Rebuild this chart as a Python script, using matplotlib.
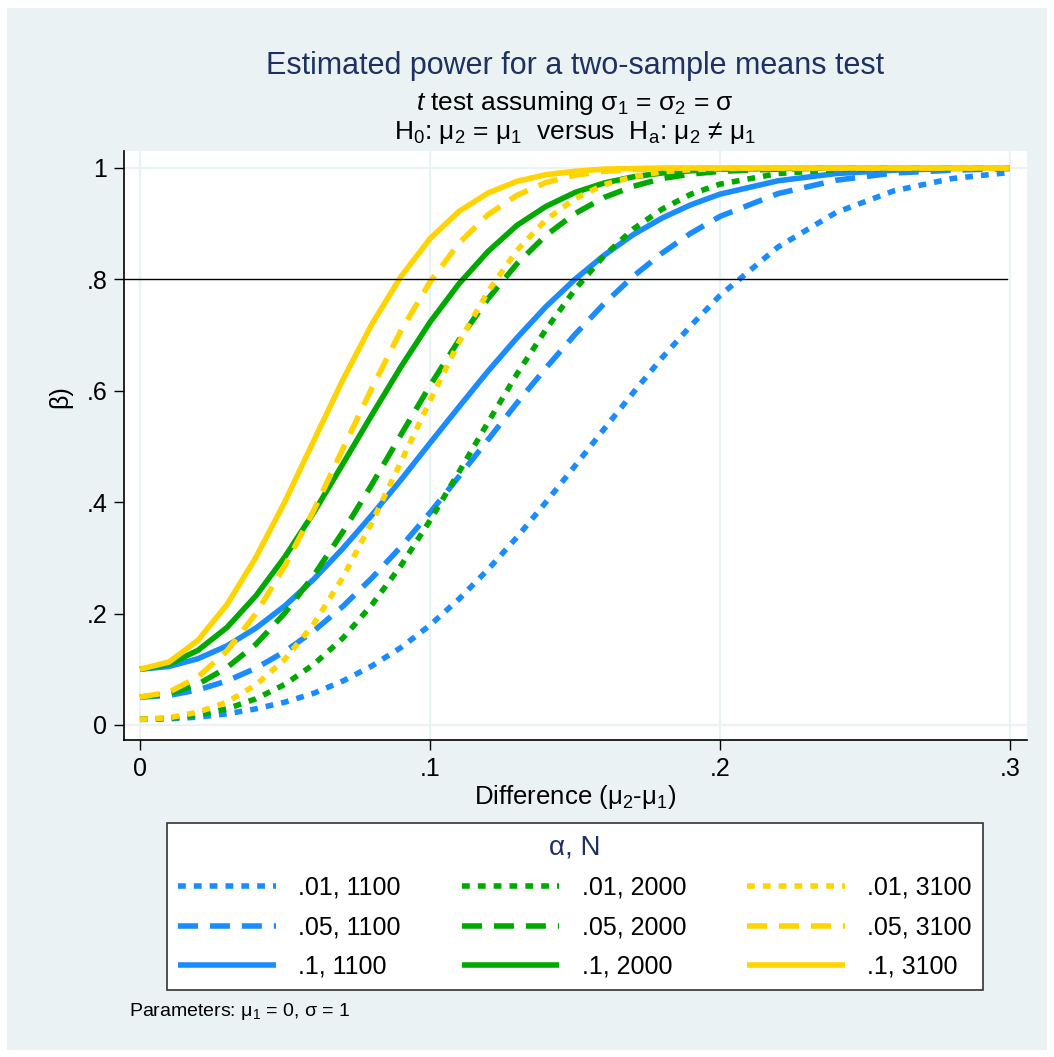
import matplotlib
matplotlib.use("Agg")
import matplotlib.pyplot as plt
from matplotlib.patches import Rectangle

plt.rcParams["font.family"] = ["Liberation Sans", "DejaVu Sans"]
plt.rcParams["mathtext.fontset"] = "custom"
plt.rcParams["mathtext.rm"] = "Liberation Sans"
plt.rcParams["mathtext.it"] = "Liberation Sans:italic"
plt.rcParams["mathtext.sf"] = "Liberation Sans"

# power curves
diff = [0, .01, .02, .03, .04, .05, .06, .07, .08, .09, .10, .11, .12, .13,
        .14, .15, .16, .17, .18, .19, .20, .22, .24, .26, .28, .30]

p01_1100 = [.010, .011, .014, .020, .029, .041, .057, .079, .106, .139, .179, .226, .279,
            .337, .400, .465, .531, .596, .659, .717, .771, .858, .920, .959, .981, .992]
p05_1100 = [.050, .053, .063, .079, .102, .132, .169, .213, .264, .320, .381, .446, .512,
            .578, .641, .701, .756, .805, .847, .883, .913, .954, .978, .991, .996, .999]
p10_1100 = [.100, .105, .119, .142, .174, .214, .262, .317, .377, .440, .506, .571, .635,
            .695, .751, .800, .843, .880, .910, .934, .953, .977, .990, .996, .999, 1.0]
p01_2000 = [.010, .012, .018, .029, .047, .073, .109, .156, .216, .286, .367, .454, .543,
            .630, .710, .782, .842, .890, .926, .953, .971, .990, .997, .999, 1.0, 1.0]
p05_2000 = [.050, .056, .073, .103, .145, .201, .269, .347, .432, .521, .609, .691, .765,
            .828, .879, .918, .947, .967, .981, .989, .994, .998, 1.0, 1.0, 1.0, 1.0]
p10_2000 = [.100, .109, .134, .175, .232, .302, .382, .469, .557, .643, .723, .792, .850,
            .897, .931, .956, .973, .984, .991, .995, .998, .999, 1.0, 1.0, 1.0, 1.0]
p01_3100 = [.010, .013, .023, .041, .072, .118, .182, .265, .364, .472, .582, .687, .778,
            .852, .907, .945, .970, .984, .993, .997, .999, 1.0, 1.0, 1.0, 1.0, 1.0]
p05_3100 = [.050, .059, .086, .133, .200, .286, .386, .496, .605, .708, .795, .865, .916,
            .951, .974, .987, .994, .997, .999, 1.0, 1.0, 1.0, 1.0, 1.0, 1.0, 1.0]
p10_3100 = [.100, .113, .152, .216, .301, .401, .511, .620, .720, .805, .873, .922, .955,
            .976, .988, .994, .998, .999, 1.0, 1.0, 1.0, 1.0, 1.0, 1.0, 1.0, 1.0]

alpha_labels = [".01", ".05", ".1"]
n_labels = ["1100", "2000", "3100"]
series = [[p01_1100, p05_1100, p10_1100],
          [p01_2000, p05_2000, p10_2000],
          [p01_3100, p05_3100, p10_3100]]

x_ticks = [0, .1, .2, .3]
x_ticklabels = ["0", ".1", ".2", ".3"]
y_ticks = [0, .2, .4, .6, .8, 1]
y_ticklabels = ["0", ".2", ".4", ".6", ".8", "1"]

colors = ["#1a8cff", "#00a800", "#ffd400"]
styles = [(0, (1.4, 1.45)), (0, (3.6, 2.15)), "-"]
navy = "#1f3161"
bg = "#eaf2f3"

W, H = 1054, 1057
fig = plt.figure(figsize=(W / 100, H / 100), dpi=100, facecolor="white")
fig.patches.append(Rectangle((7 / W, 7 / H), 1 - 14 / W, 1 - 15 / H,
                             transform=fig.transFigure, facecolor=bg,
                             edgecolor="none", zorder=-10))

ax = fig.add_axes([124 / W, 1 - 740 / H, (1027 - 124) / W, (740 - 151) / H])
ax.set_facecolor("white")

for xv in x_ticks:
    ax.axvline(xv, color=bg, lw=1.6, zorder=0)
for yv in [0, 1]:
    ax.axhline(yv, color=bg, lw=1.6, zorder=0)

handles = []
for i, n in enumerate(n_labels):
    for j, a in enumerate(alpha_labels):
        ln, = ax.plot(diff, series[i][j], color=colors[i], ls=styles[j], lw=4,
                      dash_capstyle="butt", solid_capstyle="butt",
                      solid_joinstyle="round", label=f"{a}, {n}", zorder=2 + i)
        handles.append(ln)

ax.axhline(0.8, xmin=0, xmax=0.978, color="black", lw=1.0, zorder=5)

ax.set_xlim(-0.0055, 0.3059)
ax.set_ylim(-0.027, 1.0305)
ax.set_xticks(x_ticks)
ax.set_xticklabels(x_ticklabels)
ax.set_yticks(y_ticks)
ax.set_yticklabels(y_ticklabels, rotation=0)
ax.tick_params(axis="both", direction="out", length=7, width=1.0,
               labelsize=18, pad=5, colors="black")
for s in ["top", "right"]:
    ax.spines[s].set_visible(False)
for s in ["left", "bottom"]:
    ax.spines[s].set_linewidth(1.2)
    ax.spines[s].set_color("black")

fig.text(575 / W, 1 - 66 / H, "Estimated power for a two-sample means test",
         ha="center", va="center", fontsize=22, color=navy)
fig.text(575 / W, 1 - 103 / H,
         r"$\mathit{t}$ test assuming $\mathrm{\sigma_1}$ = $\mathrm{\sigma_2}$ = σ",
         ha="center", va="center", fontsize=19)
fig.text(575 / W, 1 - 133 / H,
         r"$\mathrm{H_0}$: $\mathrm{\mu_2}$ = $\mathrm{\mu_1}$  versus  "
         r"$\mathrm{H_a}$: $\mathrm{\mu_2}$ ≠ $\mathrm{\mu_1}$",
         ha="center", va="center", fontsize=19)

fig.text(575 / W, 1 - 797 / H, r"Difference ($\mathrm{\mu_2}$-$\mathrm{\mu_1}$)",
         ha="center", va="center", fontsize=18.5)
fig.text(60 / W, 1 - 397 / H, "β)", ha="center", va="center",
         rotation=90, fontsize=18)

leg = fig.legend(handles=handles, loc="center", ncol=3, mode="expand",
                 bbox_to_anchor=(167 / W, 1 - 989 / H, (983 - 167) / W, (989 - 824) / H),
                 bbox_transform=fig.transFigure,
                 title="α, N", title_fontsize=20, fontsize=18,
                 handlelength=3.9, handletextpad=0.9, labelspacing=0.62,
                 borderpad=0.45, borderaxespad=0, fancybox=False,
                 frameon=True, edgecolor="#333333", facecolor="white", framealpha=1)
leg.get_frame().set_linewidth(1.2)
leg.get_title().set_color(navy)

fig.text(129 / W, 1 - 1012 / H,
         r"Parameters: $\mathrm{\mu_1}$ = 0, σ = 1",
         ha="left", va="center", fontsize=14)

fig.savefig("out.png", dpi=100, facecolor="white")
